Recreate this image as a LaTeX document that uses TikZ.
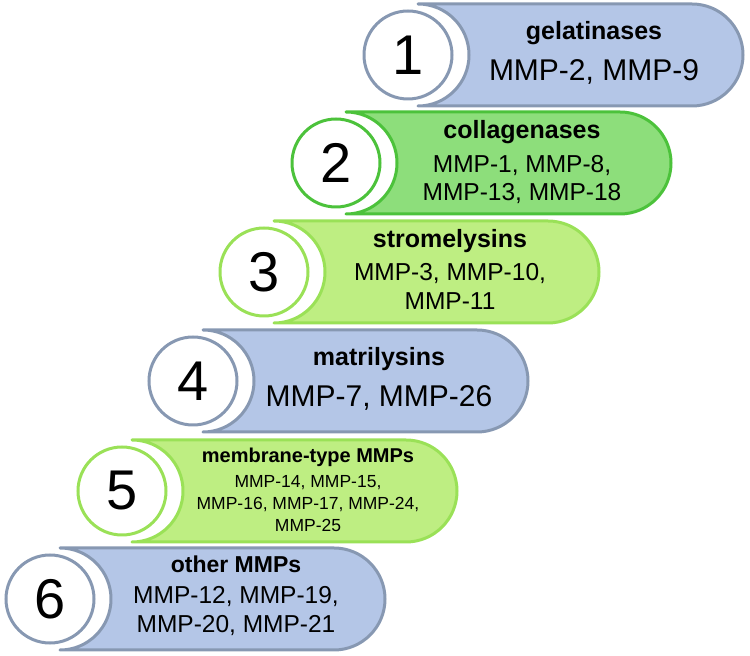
\documentclass[tikz,border=0pt]{standalone}
\usepackage{fontspec}
\setmainfont{Liberation Sans}
\definecolor{bfill}{HTML}{B4C6E7}
\definecolor{bline}{HTML}{8798B2}
\definecolor{gfill}{HTML}{8DDE7B}
\definecolor{gline}{HTML}{4CC23B}
\definecolor{lfill}{HTML}{BEEE82}
\definecolor{lline}{HTML}{9AE157}
\tikzset{
  tab/.style={line width=3pt, line join=round},
  numcirc/.style={circle, line width=3pt, fill=white, minimum size=88pt, inner sep=0pt,
    font=\fontsize{56}{60}\selectfont},
  ttl/.style={anchor=base, inner sep=0pt, font=\fontsize{#1}{#1}\selectfont\bfseries},
  txt/.style={anchor=base, inner sep=0pt, font=\fontsize{#1}{#1}\selectfont},
}
\newcommand{\tabshape}[4]{% L, Ytop, fill, line
  \draw[tab, fill=#3, draw=#4] (#1,#2) -- ({#1+274},#2)
    arc[start angle=90, end angle=-90, radius=51] -- (#1,{#2-102})
    arc[start angle=-90, end angle=90, radius=51] -- cycle;
}
\begin{document}
\begin{tikzpicture}[x=1pt,y=1pt]
\useasboundingbox (0,0) rectangle (750,656);
% Row 1
\tabshape{418}{652}{bfill}{bline}
\node[numcirc, draw=bline] (c1) at (408,601) {1};
\node[ttl=25] (h1) at (594,616) {gelatinases};
\node[txt=30] (m1) at (594,575) {MMP-2, MMP-9};
% Row 2
\tabshape{346}{544}{gfill}{gline}
\node[numcirc, draw=gline] (c2) at (336,493) {2};
\node[ttl=25] (h2) at (522,517) {collagenases};
\node[txt=24.5] (m2a) at (522,483) {MMP-1, MMP-8,};
\node[txt=24.5] (m2b) at (522,455) {MMP-13, MMP-18};
% Row 3
\tabshape{274}{435}{lfill}{lline}
\node[numcirc, draw=lline] (c3) at (264,384) {3};
\node[ttl=25] (h3) at (450,408) {stromelysins};
\node[txt=24.5] (m3a) at (450,375) {MMP-3, MMP-10,};
\node[txt=24.5] (m3b) at (450,346) {MMP-11};
% Row 4
\tabshape{203}{326}{bfill}{bline}
\node[numcirc, draw=bline] (c4) at (193,275) {4};
\node[ttl=25] (h4) at (379,290) {matrilysins};
\node[txt=30] (m4) at (379,249) {MMP-7, MMP-26};
% Row 5
\tabshape{132}{216}{lfill}{lline}
\node[numcirc, draw=lline] (c5) at (122,165) {5};
\node[ttl=20] (h5) at (308,193) {membrane-type MMPs};
\node[txt=17.5] (m5a) at (308,168) {MMP-14, MMP-15,};
\node[txt=17.5] (m5b) at (308,146) {MMP-16, MMP-17, MMP-24,};
\node[txt=17.5] (m5c) at (308,124) {MMP-25};
% Row 6
\tabshape{60}{108}{bfill}{bline}
\node[numcirc, draw=bline] (c6) at (50,57) {6};
\node[ttl=23] (h6) at (236,83) {other MMPs};
\node[txt=24.5] (m6a) at (236,52) {MMP-12, MMP-19,};
\node[txt=24.5] (m6b) at (236,23) {MMP-20, MMP-21};
\end{tikzpicture}
\end{document}
